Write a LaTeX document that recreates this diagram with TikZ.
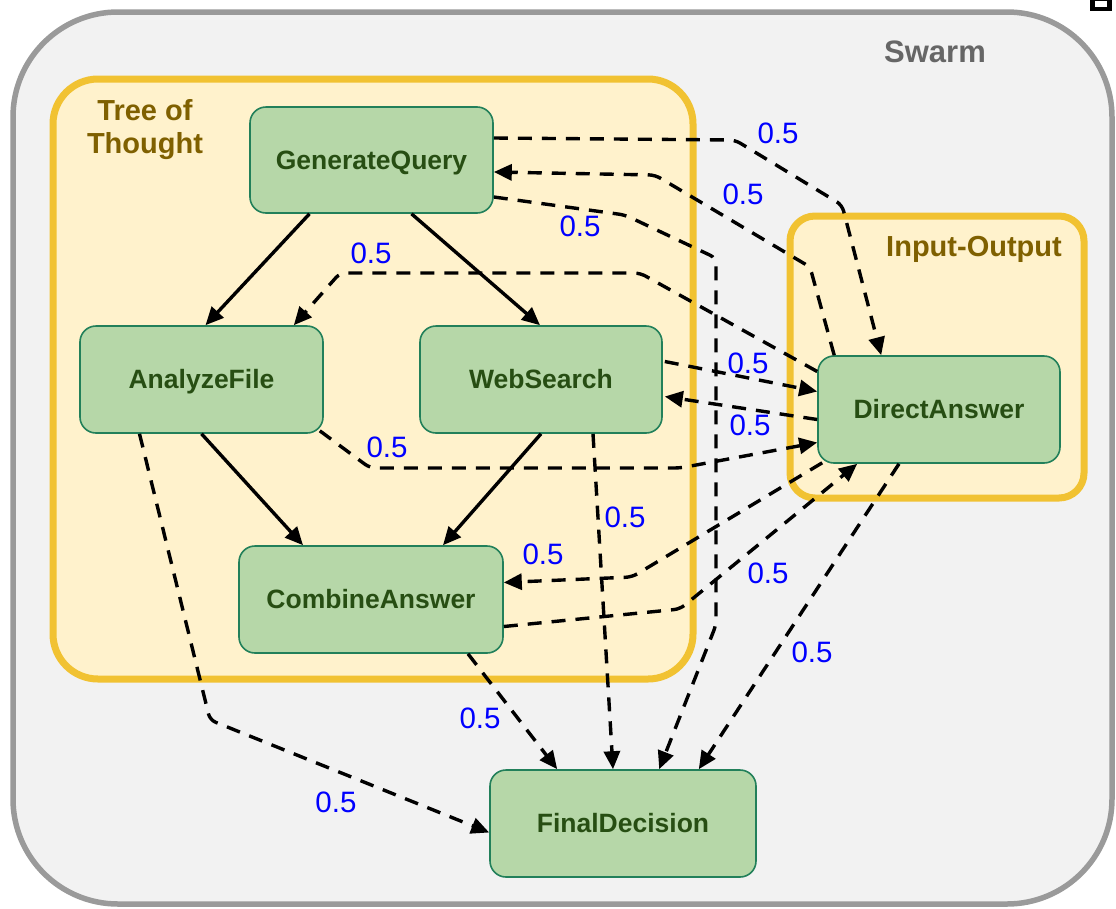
\documentclass[tikz,border=0pt]{standalone}
\usepackage{fontspec}
\setmainfont{Liberation Sans}
\usetikzlibrary{arrows.meta,calc}
\definecolor{nodefill}{HTML}{B6D7A8}
\definecolor{nodeline}{HTML}{22805A}
\definecolor{nodetext}{HTML}{274E13}
\definecolor{ylfill}{HTML}{FFF2CC}
\definecolor{ylline}{HTML}{F1C232}
\definecolor{yltext}{HTML}{7F6000}
\definecolor{swfill}{HTML}{F2F2F2}
\definecolor{swline}{HTML}{9A9A9A}
\definecolor{swtext}{HTML}{666666}
\definecolor{lblblue}{HTML}{0000FF}
\tikzset{
  agent/.style={draw=nodeline, fill=nodefill, line width=1.6pt, rounded corners=16pt,
    text=nodetext, font=\fontsize{26.5}{30}\selectfont\bfseries, inner sep=0pt,
    text height=20pt, text depth=2pt},
  solidedge/.style={line width=3.4pt, -{Triangle[length=18pt,width=16pt]}},
  dashedge/.style={line width=3.4pt, dash pattern=on 14pt off 10pt, rounded corners=6pt,
    -{Triangle[length=18pt,width=16pt]}},
  wlabel/.style={text=lblblue, font=\fontsize{29.5}{32}\selectfont, inner sep=0pt},
  grouplabel/.style={inner sep=0pt, align=center}
}
\begin{document}
\begin{tikzpicture}[x=1pt,y=-1pt]
\useasboundingbox (0,0) rectangle (1116,908);
% small icon top right
\fill[black] (1090,0) rectangle (1112,11);
\fill[white] (1095,1) rectangle (1107,7);
% containers
\draw[draw=swline, fill=swfill, line width=5.5pt, rounded corners=105pt] (13,12) rectangle (1112,904);
\node[grouplabel, text=swtext, font=\fontsize{31}{34}\selectfont\bfseries] (swarmlbl) at (935,52) {Swarm};
\draw[draw=ylline, fill=ylfill, line width=7pt, rounded corners=45pt] (53,79) rectangle (693,679);
\node[grouplabel, text=yltext, font=\fontsize{29}{33}\selectfont\bfseries] (totlbl) at (145,130) {Tree of\\Thought};
\draw[draw=ylline, fill=ylfill, line width=7pt, rounded corners=25pt] (790,216) rectangle (1084,498);
\node[grouplabel, text=yltext, font=\fontsize{29}{32}\selectfont\bfseries] (iolbl) at (974,249) {Input-Output};
% nodes
\node[agent, minimum width=243pt, minimum height=106pt] (gq) at (371.5,160) {GenerateQuery};
\node[agent, minimum width=243pt, minimum height=107pt] (af) at (201.5,379.5) {AnalyzeFile};
\node[agent, minimum width=242pt, minimum height=107pt] (ws) at (541,379.5) {WebSearch};
\node[agent, minimum width=264pt, minimum height=107pt] (ca) at (371,599.5) {CombineAnswer};
\node[agent, minimum width=242pt, minimum height=107pt] (da) at (939,409.5) {DirectAnswer};
\node[agent, minimum width=266pt, minimum height=107pt] (fd) at (623,823.5) {FinalDecision};
% solid edges
\draw[solidedge] ($(gq.south)+(-62,0)$) -- ($(af.north)+(4,0)$);
\draw[solidedge] ($(gq.south)+(40,0)$) -- ($(ws.north)+(-1,0)$);
\draw[solidedge] (af.south) -- ($(ca.north)+(-68,0)$);
\draw[solidedge] (ws.south) -- ($(ca.north)+(72,0)$);
% dashed edges
\draw[dashedge] ($(gq.east)+(0,-22)$) -- (735,140) -- (842,205) -- ($(da.north west)+(64,0)$);
\draw[dashedge] ($(da.north west)+(17,0)$) -- (810,267) -- (655,175) -- ($(gq.east)+(0,12)$);
\draw[dashedge] ($(gq.east)+(0,37)$) -- (625,215) -- (716,258) -- (716,625) -- ($(fd.north west)+(170,0)$);
\draw[dashedge] ($(da.west)+(0,-38)$) -- (640,273) -- (340,273) -- ($(af.north east)+(-30,0)$);
\draw[dashedge] ($(ws.east)+(2,-18)$) -- ($(da.west)+(0,-18)$);
\draw[dashedge] ($(da.west)+(0,10)$) -- ($(ws.east)+(2,17)$);
\draw[dashedge] ($(af.south east)+(-4,-3)$) -- (370,468) -- (680,468) -- ($(da.west)+(0,33)$);
\draw[dashedge] ($(da.south west)+(5,-1)$) -- (632,577) -- ($(ca.east)+(0,-17)$);
\draw[dashedge] ($(ca.east)+(0,27)$) -- (680,609) -- ($(da.south west)+(40,0)$);
\draw[dashedge] ($(ws.south)+(52,0)$) -- ($(fd.north)+(-10,0)$);
\draw[dashedge] ($(da.south)+(-40,0)$) -- ($(fd.north east)+(-58,0)$);
\draw[dashedge] ($(ca.south)+(97,0)$) -- ($(fd.north west)+(68,0)$);
\draw[dashedge] ($(af.south)+(-62,0)$) -- (210,720) -- ($(fd.west)+(0,9)$);
% weight labels
\node[wlabel] (w1) at (778,133) {0.5};
\node[wlabel] (w2) at (743,194) {0.5};
\node[wlabel] (w3) at (580,226) {0.5};
\node[wlabel] (w4) at (371,253) {0.5};
\node[wlabel] (w5) at (748,363) {0.5};
\node[wlabel] (w6) at (750,425) {0.5};
\node[wlabel] (w7) at (387,447) {0.5};
\node[wlabel] (w8) at (625,517) {0.5};
\node[wlabel] (w9) at (543,554) {0.5};
\node[wlabel] (w10) at (768,573) {0.5};
\node[wlabel] (w11) at (812,652) {0.5};
\node[wlabel] (w12) at (480,718) {0.5};
\node[wlabel] (w13) at (336,802) {0.5};
\end{tikzpicture}
\end{document}
